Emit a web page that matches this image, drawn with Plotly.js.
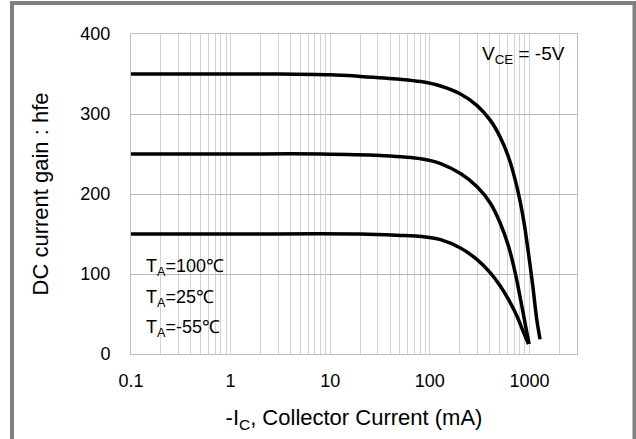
<!DOCTYPE html>
<html>
<head>
<meta charset="utf-8">
<script src="https://cdn.plot.ly/plotly-3.0.1.min.js"></script>
<style>html,body{margin:0;padding:0;background:#fff;}#chart{width:636px;height:439px;}</style>
</head>
<body>
<div id="chart"></div>
<script>
// ---- data ----
const seriesNames = ["TA=100℃", "TA=25℃", "TA=-55℃"];
const currentHot = [0.1, 1, 3, 10, 20, 50, 81, 128, 203, 298, 405, 509, 617, 748, 872, 977, 1080, 1183, 1277];
const gainHot    = [350, 350, 350, 349, 347, 343.5, 340.5, 335, 325, 310.5, 292, 271, 246, 209, 168, 126, 85, 43.5, 18.5];
const currentRoom = [0.1, 1, 8, 32, 81, 128, 203, 298, 405, 509, 617, 719, 838, 940, 993];
const gainRoom    = [250, 250, 250, 248, 244, 238, 225.5, 209, 188.5, 163.5, 134.5, 101.5, 60, 27, 12.5];
const currentCold = [0.1, 1, 20, 55, 81, 128, 203, 298, 405, 509, 617, 748, 872, 977];
const gainCold    = [150, 150, 150, 148, 147, 143, 132.5, 118, 101.5, 85, 68, 47.5, 27, 12.5];

const xMajorTicks = [0.1, 1, 10, 100, 1000];
const xMajorLabels = ["0.1", "1", "10", "100", "1000"];
const xMinorSteps = [2, 3, 4, 5, 6, 7, 8, 9];
const yTicks = [0, 100, 200, 300, 400];
const yLabels = ["0", "100", "200", "300", "400"];
const xMax = 3000;

// minor gridline positions (unlabelled)
const xMinorVals = [];
xMajorTicks.forEach(m => {
  xMinorSteps.forEach(s => { const v = m * s; if (v <= xMax + 1e-9) xMinorVals.push(v); });
});

// ---- layout geometry ----
const W = 636, H = 439, L = 131, R = 59, T = 34, B = 85;
const pw = W - L - R, ph = H - T - B;
const px = v => (v - L) / pw;         // pixel x -> paper
const py = v => (H - B - v) / ph;     // pixel y -> paper

const lineStyle = {color: "#000000", width: 3.5, shape: "spline", smoothing: 1};
const traces = [
  {x: currentHot, y: gainHot, name: seriesNames[0], mode: "lines", line: lineStyle},
  {x: currentRoom, y: gainRoom, name: seriesNames[1], mode: "lines", line: lineStyle},
  {x: currentCold, y: gainCold, name: seriesNames[2], mode: "lines", line: lineStyle}
];

const font = "'Liberation Sans', Arial, sans-serif";
const gridV = "#d2d2d2";
const layout = {
  width: W, height: H,
  margin: {l: L, r: R, t: T, b: B, pad: 0},
  paper_bgcolor: "#ffffff", plot_bgcolor: "#ffffff",
  showlegend: false,
  font: {family: font, color: "#000000"},
  xaxis: {
    type: "log", range: [-1, Math.log10(xMax)],
    tickmode: "array", tickvals: xMajorTicks, ticktext: xMajorLabels,
    ticks: "", showgrid: true, gridcolor: gridV, gridwidth: 1,
    minor: {tickmode: "array", tickvals: xMinorVals, showgrid: true, gridcolor: gridV, gridwidth: 1, ticks: ""},
    showline: true, linecolor: "#bdbdbd", linewidth: 1, mirror: true,
    zeroline: false, ticklabelstandoff: 10,
    tickfont: {family: font, size: 18, color: "#000000"},
    title: {text: "-I<sub>C</sub>, Collector Current (mA)", font: {family: font, size: 22, color: "#000000"}, standoff: 20},
    automargin: false
  },
  yaxis: {
    range: [0, 400], tickmode: "array", tickvals: yTicks, ticktext: yLabels,
    ticks: "", showgrid: true, gridcolor: "#b8b8b8", gridwidth: 1,
    showline: true, linecolor: "#bdbdbd", linewidth: 1, mirror: true,
    zeroline: false, ticklabelstandoff: 16,
    tickfont: {family: font, size: 18, color: "#000000"},
    title: {text: "DC current gain : hfe", font: {family: font, size: 22, color: "#000000"}, standoff: 25},
    automargin: false
  },
  shapes: [
    {type: "rect", xref: "paper", yref: "paper", x0: px(140), x1: px(249), y0: py(348), y1: py(240),
     fillcolor: "#ffffff", line: {width: 0}, layer: "below"},
    {type: "rect", xref: "paper", yref: "paper", x0: px(477), x1: px(563), y0: py(70), y1: py(37),
     fillcolor: "#ffffff", line: {width: 0}, layer: "below"},
    {type: "rect", xref: "paper", yref: "paper", x0: px(12), x1: px(634.5), y0: py(460), y1: py(3),
     fillcolor: "rgba(0,0,0,0)", line: {color: "#808080", width: 4}, layer: "above"}
  ],
  annotations: [
    {xref: "paper", yref: "paper", x: px(144), y: py(267), xanchor: "left", yanchor: "middle", showarrow: false,
     text: "T<sub>A</sub>=100℃", font: {family: font, size: 18, color: "#000000"}},
    {xref: "paper", yref: "paper", x: px(144), y: py(298), xanchor: "left", yanchor: "middle", showarrow: false,
     text: "T<sub>A</sub>=25℃", font: {family: font, size: 18, color: "#000000"}},
    {xref: "paper", yref: "paper", x: px(144), y: py(328), xanchor: "left", yanchor: "middle", showarrow: false,
     text: "T<sub>A</sub>=-55℃", font: {family: font, size: 18, color: "#000000"}},
    {xref: "paper", yref: "paper", x: px(523), y: py(55), xanchor: "center", yanchor: "middle", showarrow: false,
     text: "V<sub>CE</sub> = -5V", font: {family: font, size: 19, color: "#000000"}}
  ]
};

Plotly.newPlot("chart", traces, layout, {displayModeBar: false, staticPlot: true});
</script>
</body>
</html>
